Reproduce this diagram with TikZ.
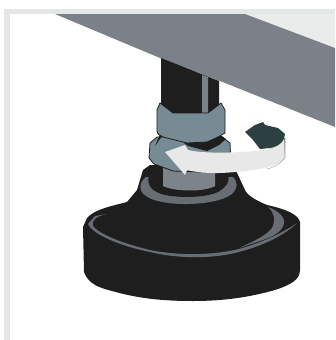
\documentclass[tikz,border=0pt]{standalone}
\definecolor{frameg}{HTML}{E4E7E6}
\definecolor{slab}{HTML}{7C8087}
\definecolor{blk}{HTML}{1F1E1F}
\definecolor{nut}{HTML}{768B93}
\definecolor{stud}{HTML}{7E8289}
\definecolor{ring}{HTML}{686D73}
\definecolor{wht}{HTML}{E7E8E7}
\definecolor{shade}{HTML}{DADCDA}
\definecolor{teal}{HTML}{2C4041}
\tikzset{nutshape/.style={fill=nut,draw=blk,line width=0.8pt,line join=round}}
\begin{document}
\begin{tikzpicture}[x=1pt,y=-1pt]
\useasboundingbox (0,0) rectangle (335,340);
\fill[white] (0,0) rectangle (335,340);
% frame
\fill[frameg] (4,9) rectangle (335,14);
\fill[frameg] (4,9) rectangle (10,340);
\fill[frameg!80!white] (245,14) -- (335,14) -- (335,48) -- cycle;
% slab
\fill[slab] (55,14) -- (245,14) -- (335,48) -- (335,127) -- (220,81) -- (160,58) -- cycle;
% post
\fill[blk] (161,58) -- (219,81) -- (219,118) -- (161,118) -- cycle;
\fill[slab] (202,75) -- (208,77) -- (208,113) -- (202,113) -- cycle;
% base
\fill[blk] (143,170) -- (137,190) -- (127,202) .. controls (112,206) and (95,209) .. (87,218)
  -- (83,227) -- (84,272) .. controls (88,284) and (100,288) .. (112,291)
  .. controls (140,299) and (165,301) .. (193,301)
  .. controls (225,301) and (250,297) .. (275,290)
  .. controls (290,285) and (300,280) .. (300,270)
  -- (300,222) .. controls (298,214) and (285,209) .. (267,205)
  .. controls (255,200) and (247,195) .. (245,190) -- (238,175) -- (233,165) -- (150,165) -- cycle;
% base highlight: long thin band
\fill[ring] (107,214) -- (95,216) -- (88,224) .. controls (92,234) and (120,246) .. (150,252)
  .. controls (175,258) and (205,259) .. (230,254)
  .. controls (260,248) and (285,235) .. (297,223)
  .. controls (282,233) and (262,243) .. (235,250)
  .. controls (205,256) and (175,255) .. (150,250)
  .. controls (125,244) and (100,235) .. (93,226)
  .. controls (91,220) and (97,216) .. (107,214) -- cycle;
% base highlight: right crescent
\fill[ring] (268,207) .. controls (276,210) and (282,214) .. (284,220)
  .. controls (285,228) and (278,234) .. (268,238)
  .. controls (258,242) and (248,245) .. (239,248)
  .. controls (252,242) and (266,236) .. (272,228)
  .. controls (276,220) and (274,212) .. (268,207) -- cycle;
% neck ring
\fill[ring] (146,177) .. controls (138,183) and (139,192) .. (146,196)
  .. controls (160,207) and (215,207) .. (232,194)
  .. controls (238,188) and (238,182) .. (233,177) -- cycle;
\fill[blk] (149,175) .. controls (146,185) and (152,192) .. (165,195)
  .. controls (180,198) and (205,198) .. (218,192)
  .. controls (228,186) and (230,180) .. (228,175) -- cycle;
% stud
\fill[stud] (163,165) -- (215,165) -- (215,186) .. controls (205,192) and (175,192) .. (163,186) -- cycle;
% lower nut
\path[nutshape] (150,143) -- (157,137) -- (222,137) -- (230,143) -- (231,165) -- (200,172)
  -- (173,171) -- (154,164) -- (149,158) -- cycle;
\fill[blk] (155,146) -- (162,136) -- (175,136) -- (188,146) -- (207,151) -- (219,145) -- (226,139)
  -- (219,134) -- (160,134) -- cycle;
% upper nut
\path[nutshape] (157,110) -- (160,103) -- (173,113) -- (208,113) -- (221,103) -- (225,110)
  -- (225,133) -- (218,137) -- (207,142) -- (187,143) -- (163,137) -- (158,134) -- (157,131) -- cycle;
% arrow
\fill[shade] (285,138) -- (285,158) .. controls (278,166) and (272,168) .. (266,169) -- (270,148) -- cycle;
\fill[wht] (165,152) -- (185,145) -- (188,150) .. controls (205,154) and (240,153) .. (262,150)
  .. controls (272,149) and (281,146) .. (284,139) -- (284,158)
  .. controls (276,166) and (260,170) .. (235,172)
  .. controls (215,174) and (200,173) .. (187,170) -- (185,175) -- cycle;
\fill[teal] (245,132) -- (255,125) -- (263,122) -- (265,125) -- (278,128) -- (285,134)
  .. controls (285,140) and (280,146) .. (270,148) -- (260,149) -- (253,140) -- cycle;
\end{tikzpicture}
\end{document}
